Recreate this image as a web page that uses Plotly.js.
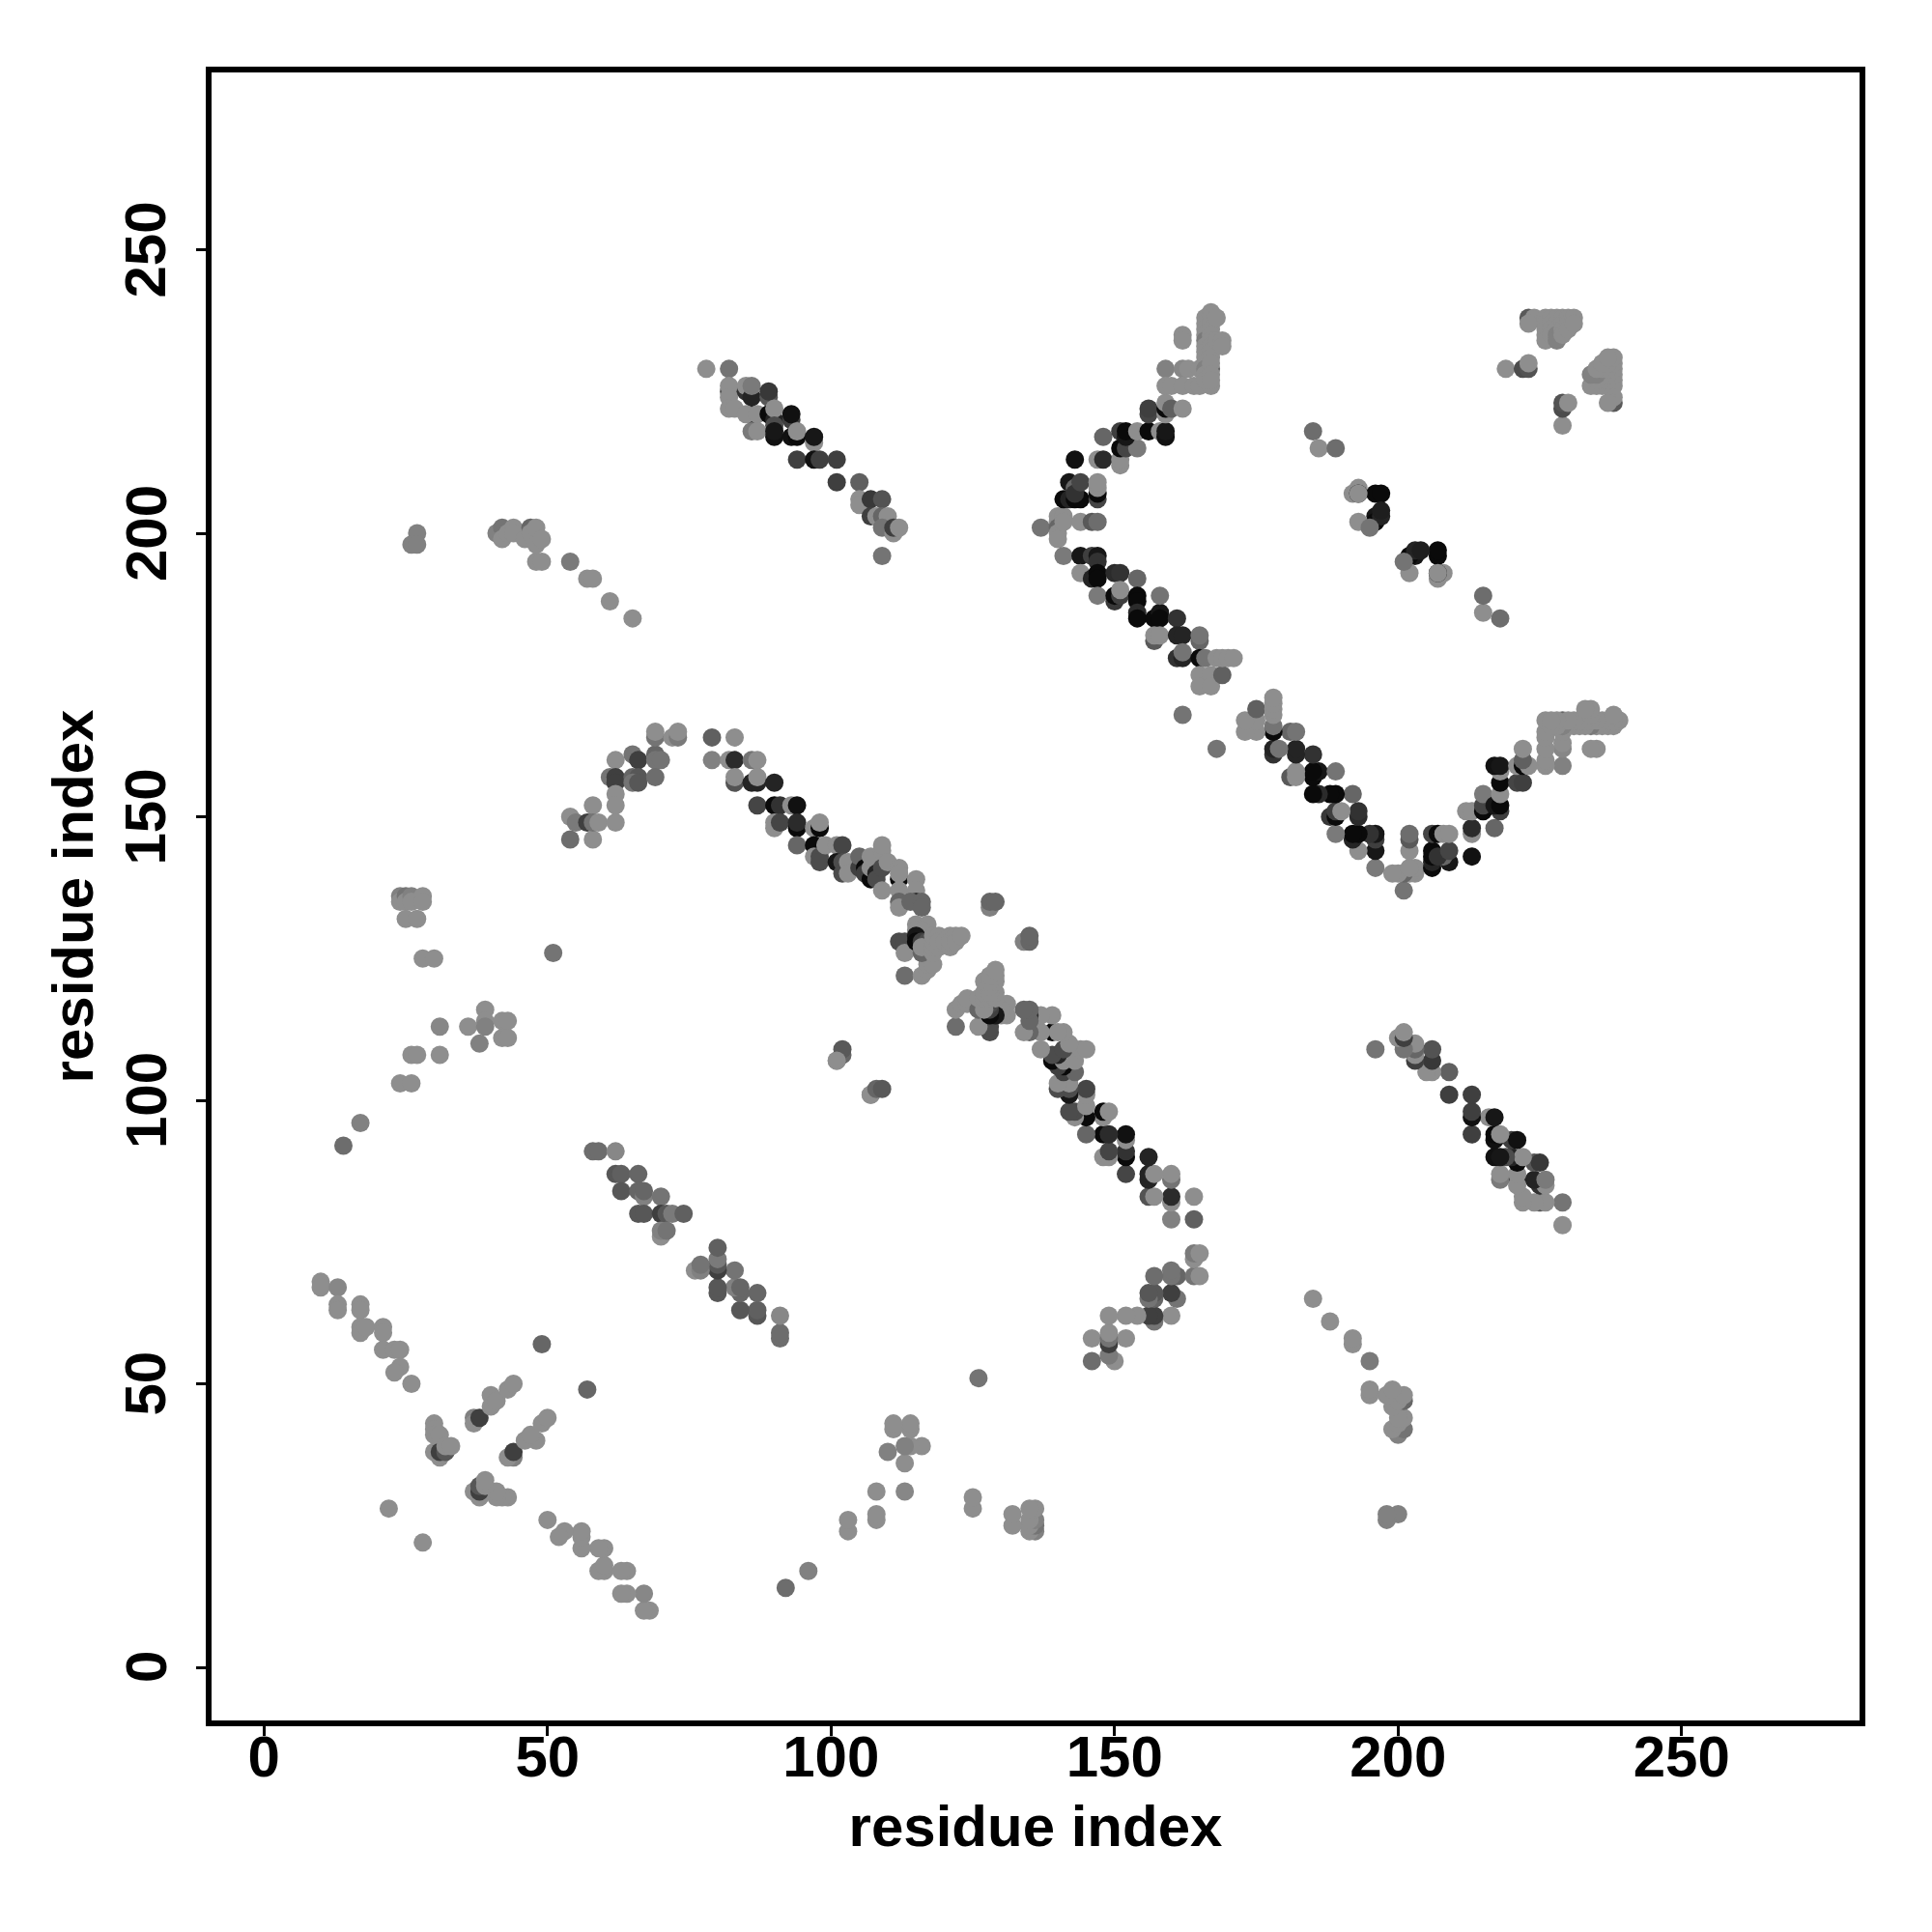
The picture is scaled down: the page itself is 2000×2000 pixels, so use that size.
<!DOCTYPE html>
<html><head><meta charset="utf-8">
<script src="https://cdn.plot.ly/plotly-3.0.1.min.js"></script>
<style>html,body{margin:0;padding:0;background:#fff}</style></head>
<body><div id="chart" style="width:2000px;height:2000px"></div>
<script>
// Contact strength classes (0 = weakest, 1 = strongest); the map is a symmetric residue contact matrix.
const L=0,M=.3,H=.42,D=.6,K=.8,B=1;
// Upper-triangle contacts: [residue i, residue j, strength]
const chainA=[[10,68,L],[10,67,L],[13,67,.05],[13,64,L],[13,63,L],[17,64,L],[17,63,L],[17,60,L],[17,59,L],[18,60,L],[21,60,L],[21,59,L],[21,56,L],[23,56,L],[24,56,L],[24,53,L],[23,52,L],[26,50,L],[22,28,L]];
const clusterB=[[30,38,L],[31,37,L],[31,38,D],[32,38,H],[30,43,L],[30,42,L],[30,41,L],[31,41,L],[32,39,L],[33,39,L],[37,44,.1],[37,43,L],[38,44,D],[40,48,L],[40,46,L],[41,47,L],[43,49,L],[44,50,L],[49,57,.3]];
const bandC=[[58,91,.25],[59,91,.25],[62,91,.05],[62,87,H],[63,87,.35],[66,87,.3],[63,84,H],[66,84,.3],[67,83,.1],[67,84,.3],[70,83,.2],[66,80,H],[67,80,H],[70,80,D],[71,80,H],[72,80,.15],[74,80,.35],[70,76,L],[70,77,.1],[71,77,.2]];
const arcD=[[54,150,L],[55,149,.15],[54,146,.25],[58,152,L],[57,149,D],[58,146,L],[58,149,.2],[59,149,L],[62,160,L],[61,157,.2],[62,157,D],[62,156,D],[62,154,L],[62,152,L],[62,149,L],[65,161,.2],[66,160,D],[65,157,.3],[66,157,H],[65,156,.2],[66,156,H],[69,161,.3],[69,160,.2],[70,160,.2],[69,157,.25],[69,164,.2],[69,165,L],[72,164,L],[73,164,.15],[73,165,L],[51,126,.2]];
const bandE=[[79,164,.35],[83,164,L],[79,160,.1],[82,160,L],[83,160,.75],[86,160,.2],[87,160,L],[83,156,.45],[83,157,L],[86,156,.8],[87,156,.8],[87,157,L],[90,156,.8],[87,152,.55],[90,152,B],[91,152,.7],[93,152,L],[94,152,.95],[90,148,L],[90,149,L],[91,149,.55],[94,148,B],[94,149,.75],[94,145,.3],[97,148,L],[98,148,B],[98,149,L],[97,145,B],[97,143,L],[98,143,.5],[98,142,.5],[99,145,L],[101,145,L],[102,145,.55],[101,142,.9],[102,142,.5],[102,140,.5],[103,142,L],[103,140,L],[105,141,.6],[105,143,.3],[106,141,B],[106,140,.6],[107,139,B],[107,141,L],[107,143,L],[108,140,.8],[108,139,.5],[109,141,.5],[109,137,L],[109,144,L],[109,145,L],[110,142,L]];
const bandF=[[112,139,B],[112,141,L],[112,140,L],[112,137,L],[112,135,.3],[112,134,L],[115,139,L],[115,137,L],[115,135,.7],[114,135,.3],[116,135,.3],[116,134,.3],[112,128,.5],[113,128,.5],[113,126,L],[113,122,.25],[116,122,L],[117,123,L],[117,124,L],[118,124,L],[115,131,L],[117,131,L],[115,130,L],[116,130,L],[115,129,.9],[115,128,B],[116,128,.6],[117,128,.5],[116,126,.3],[116,127,L],[118,126,L],[118,127,L],[118,128,L],[118,129,L],[119,129,L],[119,127,L],[119,128,L],[120,128,L],[121,129,L],[121,127,L],[121,128,L],[122,129,L],[122,128,L],[123,129,L],[128,134,.1],[128,135,.3],[129,135,.3],[101,107,L],[102,108,.3],[102,109,.4],[107,101,L]];
const offsetG=[[24,136,.1],[24,135,L],[25,136,.2],[25,135,L],[26,136,.1],[26,135,L],[28,136,L],[28,135,L],[25,132,L],[27,132,L],[28,125,L],[30,125,L],[31,113,.05],[36,113,L],[39,116,L],[39,114,L],[39,113,.1],[38,110,.1],[42,114,L],[43,114,L],[42,111,L],[43,111,L],[26,108,L],[27,108,L],[31,108,L],[24,103,L],[26,103,L],[17,96,.1],[14,92,.25]];
const offsetH=[[27,200,.1],[26,198,.1],[27,198,.1],[41,200,.1],[42,201,.2],[42,199,L],[43,200,L],[44,201,L],[44,200,L],[46,199,L],[47,201,.3],[47,200,L],[48,201,L],[48,198,L],[49,199,L],[48,195,L],[49,195,L],[54,195,.15],[57,192,L],[58,192,L],[61,188,L],[65,185,L]];
const bandI=[[78,229,L],[82,229,.2],[82,225,H],[82,226,L],[82,224,L],[82,222,L],[83,222,L],[85,225,.7],[85,226,L],[86,224,K],[86,226,.15],[89,224,H],[89,225,.65],[86,221,K],[85,221,L],[87,221,L],[89,221,B],[90,220,K],[90,222,L],[90,219,.5],[93,220,.6],[93,221,.95],[86,218,.15],[87,218,L],[90,217,.95],[90,218,.9],[93,217,.95],[94,217,B],[94,218,L],[97,216,L],[97,217,.9],[94,213,.6],[97,213,.95],[98,213,.6],[101,213,.6],[101,209,.6],[105,209,.35],[105,206,L],[105,205,L],[107,206,.65],[109,206,.45],[107,203,.6],[108,203,L],[109,203,.3],[110,203,L],[109,201,.2],[111,200,L],[111,201,.6],[112,201,L],[109,196,.2]];
const branchJ=[[137,201,.2],[140,203,L],[140,202,L],[140,201,.3],[140,200,L],[140,199,L],[141,203,L],[141,202,L],[144,202,L],[146,202,.4],[147,202,.25],[141,196,.15],[141,206,B],[142,206,K],[143,206,B],[144,206,B],[142,209,.9],[143,208,.3],[143,207,.7],[144,209,.55],[147,206,.55],[147,207,B],[147,208,L],[147,209,L],[143,213,.95],[147,213,L],[148,213,.75],[151,212,L],[151,213,L],[151,215,B],[152,215,.55],[154,215,.15],[148,217,.3],[151,218,.6],[152,217,.9],[152,218,B],[154,218,L],[156,218,B],[158,218,L],[159,217,.95],[159,218,.9],[156,221,.55],[156,222,.6],[159,221,L],[159,222,B],[159,223,L],[160,222,.35],[162,222,L]];
const branchK=[[159,229,.1],[159,226,L],[160,226,L],[162,229,.05],[163,229,L],[165,229,L],[162,226,L],[164,226,L],[165,226,L],[167,226,L],[162,235,L],[162,234,L],[167,229,.3],[166,238,L],[166,237,L],[166,236,L],[166,235,L],[166,234,.15],[166,233,L],[166,232,L],[166,231,L],[166,230,L],[166,229,.1],[166,228,L],[166,227,L],[167,239,L],[167,238,L],[167,237,L],[167,236,L],[167,235,L],[167,234,L],[167,233,L],[167,232,L],[167,231,L],[167,230,L],[167,228,L],[167,227,L],[168,238,L],[168,234,L],[169,234,L],[169,233,L]];
const branchN=[[144,196,.9],[146,196,.6],[147,196,.9],[147,195,.7],[144,193,L],[146,192,.8],[147,193,B],[147,192,B],[147,189,.15],[150,188,.65],[150,189,B],[150,193,.75],[151,193,.7],[151,189,.6],[151,190,L],[154,192,.3],[154,189,B],[154,188,B],[154,186,.75],[154,185,B],[157,185,B],[158,186,.9],[158,185,B],[158,189,.2],[161,185,.7],[157,181,.4],[157,182,L],[158,182,L],[161,182,.8],[162,182,.8],[165,181,.3],[165,182,.2],[161,178,.7],[162,178,.8],[162,179,.2],[165,178,B],[165,175,L],[165,173,L],[166,178,.2],[167,175,L],[167,173,L],[169,175,.35],[168,178,L],[169,178,L],[170,178,L],[171,178,L],[162,168,.2]];
const offsetP=[[185,218,.25],[186,215,L],[189,215,.25],[192,207,L],[193,208,L],[193,207,B],[196,207,B],[197,207,B],[196,203,.9],[196,202,B],[197,203,.8],[197,204,.85],[193,202,L],[195,201,.2],[193,207,L]];
const cornerQ=[[219,229,L],[222,229,.5],[223,229,.45],[223,230,L],[223,238,.4],[224,238,L],[223,237,L],[226,238,L],[226,237,L],[226,236,L],[226,235,L],[226,234,L],[227,238,L],[227,237,L],[227,236,L],[227,235,L],[228,238,L],[228,237,L],[228,236,L],[228,235,.1],[228,234,.1],[229,238,L],[229,237,L],[229,236,L],[229,235,L],[230,238,L],[230,237,L],[230,236,L],[231,238,L],[231,237,L]];
const tickVals=[0,50,100,150,200,250];
const axisLabel="residue index";

const contacts=[].concat(chainA,clusterB,bandC,arcD,bandE,bandF,offsetG,offsetH,bandI,branchJ,branchK,branchN,offsetP,cornerQ);
const all=contacts.concat(contacts.map(c=>[c[1],c[0],c[2]]));
const font="'Liberation Sans',Arimo,Helvetica,Arial,sans-serif";
const boldFont={family:font,size:60,color:'#000',weight:700};
const axis=(extra)=>Object.assign({tickmode:'array',tickvals:tickVals,ticktext:tickVals.map(String),ticks:'outside',ticklen:10,tickwidth:3,tickcolor:'#000',showline:true,mirror:true,linecolor:'#000',linewidth:6,showgrid:false,zeroline:false,tickfont:boldFont},extra);
Plotly.newPlot('chart',[{type:'scatter',mode:'markers',x:all.map(c=>c[0]),y:all.map(c=>c[1]),hoverinfo:'skip',
 marker:{size:19,color:all.map(c=>c[2]),cmin:0,cmax:1,colorscale:[[0,'#8e8e8e'],[1,'#0a0a0a']],showscale:false,line:{width:0}}}],
{width:2000,height:2000,showlegend:false,paper_bgcolor:'#fff',plot_bgcolor:'#fff',
 margin:{l:219,r:75,t:75,b:219,pad:0},
 xaxis:axis({range:[-9.25,281.38],ticklabelstandoff:-30,title:{text:axisLabel,font:boldFont,standoff:20}}),
 yaxis:axis({range:[-9.37,281.28],showticklabels:false,title:{text:axisLabel,font:boldFont,standoff:89}}),
 annotations:tickVals.map(v=>({xref:'paper',yref:'y',x:0,y:v,text:String(v),textangle:-90,showarrow:false,xanchor:'center',yanchor:'middle',xshift:-68,font:boldFont}))},
 {displayModeBar:false,staticPlot:true});
</script></body></html>
